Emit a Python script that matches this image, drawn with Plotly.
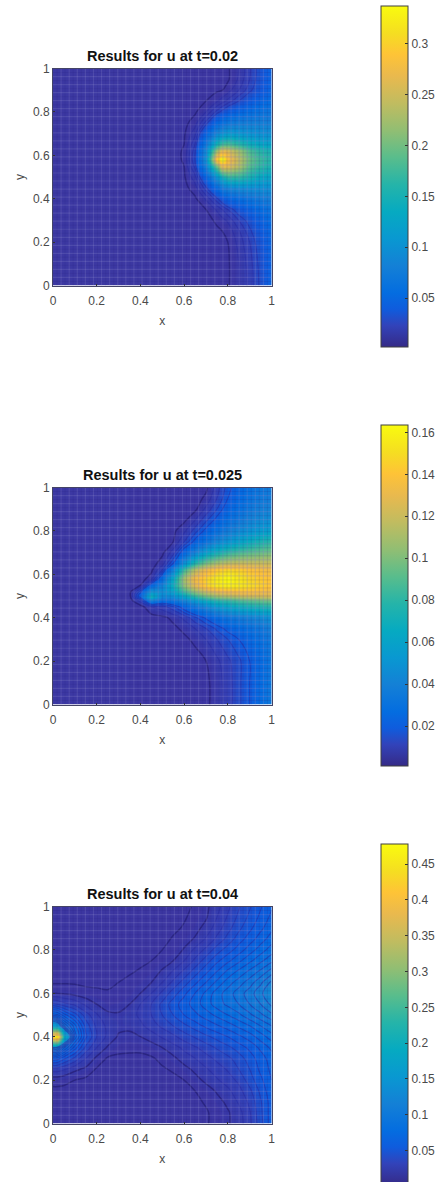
import numpy as np
import plotly.graph_objects as go

W, H = 441, 1182

parula = [
    [0.000, "rgb(53,42,135)"], [0.063, "rgb(50,67,186)"], [0.111, "rgb(15,92,221)"],
    [0.159, "rgb(4,109,224)"], [0.238, "rgb(20,128,214)"], [0.317, "rgb(9,152,209)"],
    [0.397, "rgb(6,170,193)"], [0.476, "rgb(37,180,169)"], [0.556, "rgb(89,189,140)"],
    [0.635, "rgb(145,190,115)"], [0.714, "rgb(192,188,96)"], [0.794, "rgb(233,185,78)"],
    [0.857, "rgb(254,195,55)"], [0.921, "rgb(245,222,33)"], [1.000, "rgb(249,251,14)"],
]
# the field itself looks lighter at its low end than the bar, because of the fine mesh
field_scale = [[0.0, "rgb(60,56,162)"], [0.02, "rgb(60,56,165)"]] + parula[1:]

ticks01 = [0, 0.2, 0.4, 0.6, 0.8, 1]
tick_text = ["0", "0.2", "0.4", "0.6", "0.8", "1"]

# ---------- Panel 1, t=0.02 (values in thousandths) ----------
title1 = "Results for u at t=0.02"
x1 = [0, .2, .4, .5, .55, .6, .65, .7, .75, .775, .8, .85, .9, .95, 1]
y1 = [0, .1, .2, .25, .3, .35, .4, .45, .5, .55, .58, .62, .65, .7, .75, .8, .85, .9, .95, 1]
z1 = [
    [3, 3, 3, 3, 3, 3, 3, 3, 4, 4, 5, 12, 20, 32, 48],
    [3, 3, 3, 3, 3, 3, 3, 3, 4, 4, 5, 12, 21, 33, 48],
    [3, 3, 3, 3, 3, 3, 3, 3, 4, 5, 6, 14, 24, 36, 50],
    [3, 3, 3, 3, 3, 3, 3, 4, 5, 6, 8, 17, 28, 40, 52],
    [3, 3, 3, 3, 3, 3, 3, 4, 7, 10, 13, 24, 34, 46, 58],
    [3, 3, 3, 3, 3, 3, 4, 6, 13, 18, 24, 36, 46, 56, 66],
    [3, 3, 3, 3, 3, 3, 5, 13, 28, 38, 48, 58, 68, 76, 82],
    [3, 3, 3, 3, 3, 4, 9, 28, 58, 78, 90, 98, 100, 100, 100],
    [3, 3, 3, 3, 3, 5, 16, 48, 105, 140, 165, 165, 150, 130, 125],
    [3, 3, 3, 3, 3, 6, 26, 85, 200, 265, 260, 230, 185, 165, 150],
    [3, 3, 3, 3, 3, 7, 30, 105, 300, 335, 285, 240, 195, 172, 160],
    [3, 3, 3, 3, 3, 7, 28, 95, 225, 265, 255, 220, 180, 160, 150],
    [3, 3, 3, 3, 3, 6, 24, 75, 155, 180, 185, 165, 145, 130, 125],
    [3, 3, 3, 3, 3, 5, 16, 48, 92, 105, 115, 110, 105, 100, 100],
    [3, 3, 3, 3, 3, 4, 9, 26, 52, 62, 72, 78, 80, 82, 82],
    [3, 3, 3, 3, 3, 3, 5, 12, 26, 33, 40, 50, 58, 65, 68],
    [3, 3, 3, 3, 3, 3, 3, 6, 11, 15, 20, 30, 40, 50, 58],
    [3, 3, 3, 3, 3, 3, 3, 4, 5, 6, 9, 18, 28, 38, 50],
    [3, 3, 3, 3, 3, 3, 3, 3, 4, 4, 5, 13, 24, 35, 48],
    [3, 3, 3, 3, 3, 3, 3, 3, 4, 4, 5, 12, 23, 35, 48],
]
range1 = [0.002, 0.337]
bar1 = [0.05, 0.1, 0.15, 0.2, 0.25, 0.3]
bar1_text = ["0.05", "0.1", "0.15", "0.2", "0.25", "0.3"]

# ---------- Panel 2, t=0.025 ----------
title2 = "Results for u at t=0.025"
x2 = [0, .15, .3, .35, .4, .45, .5, .55, .6, .65, .7, .75, .8, .85, .9, .95, 1]
y2 = [0, .1, .2, .3, .35, .4, .45, .48, .5, .52, .55, .58, .62, .65, .7, .75, .8, .85, .9, .95, 1]
z2 = [
    [2, 2, 2, 2, 2, 2, 2, 2, 2, 2, 3, 6, 10, 15, 20, 27, 35],
    [2, 2, 2, 2, 2, 2, 2, 2, 2, 2, 3, 6, 10, 15, 20, 27, 35],
    [2, 2, 2, 2, 2, 2, 2, 2, 2, 2, 4, 7, 11, 15, 20, 26, 34],
    [2, 2, 2, 2, 2, 2, 2, 2, 3, 5, 8, 12, 16, 20, 25, 30, 36],
    [2, 2, 2, 2, 2, 2, 2, 3, 5, 8, 12, 17, 22, 26, 30, 34, 40],
    [2, 2, 2, 2, 2, 2, 3, 5, 9, 15, 21, 27, 33, 37, 41, 45, 50],
    [2, 2, 2, 2, 2, 8, 10, 15, 24, 34, 45, 55, 62, 68, 72, 75, 78],
    [2, 2, 2, 2, 10, 40, 28, 32, 42, 55, 68, 78, 82, 88, 92, 95, 98],
    [2, 2, 2, 2, 25, 72, 45, 48, 62, 80, 95, 105, 110, 115, 118, 120, 122],
    [2, 2, 2, 2, 18, 52, 48, 60, 85, 105, 120, 130, 135, 138, 138, 135, 132],
    [2, 2, 2, 2, 4, 25, 42, 70, 105, 128, 145, 155, 158, 155, 150, 145, 140],
    [2, 2, 2, 2, 2, 6, 28, 65, 110, 135, 146, 156, 163, 155, 147, 143, 140],
    [2, 2, 2, 2, 2, 3, 12, 40, 85, 115, 132, 142, 148, 145, 140, 136, 133],
    [2, 2, 2, 2, 2, 2, 6, 20, 50, 80, 100, 112, 118, 120, 120, 120, 120],
    [2, 2, 2, 2, 2, 2, 3, 10, 25, 42, 60, 72, 82, 88, 92, 95, 98],
    [2, 2, 2, 2, 2, 2, 2, 4, 12, 22, 32, 44, 52, 60, 68, 75, 80],
    [2, 2, 2, 2, 2, 2, 2, 3, 7, 14, 22, 30, 38, 45, 50, 55, 58],
    [2, 2, 2, 2, 2, 2, 2, 2, 3, 8, 15, 22, 30, 36, 42, 46, 48],
    [2, 2, 2, 2, 2, 2, 2, 2, 2, 3, 9, 16, 24, 30, 36, 40, 42],
    [2, 2, 2, 2, 2, 2, 2, 2, 2, 2, 5, 12, 20, 26, 32, 36, 38],
    [2, 2, 2, 2, 2, 2, 2, 2, 2, 2, 3, 10, 18, 24, 30, 34, 36],
]
range2 = [0.001, 0.1635]
bar2 = [0.02, 0.04, 0.06, 0.08, 0.1, 0.12, 0.14, 0.16]
bar2_text = ["0.02", "0.04", "0.06", "0.08", "0.1", "0.12", "0.14", "0.16"]

# ---------- Panel 3, t=0.04 ----------
title3 = "Results for u at t=0.04"
x3 = [0, .02, .05, .1, .15, .2, .25, .3, .35, .4, .45, .5, .55, .6, .65, .7, .75, .8, .85, .9, .95, 1]
y3 = [0, .05, .1, .15, .2, .25, .3, .35, .4, .45, .5, .55, .6, .65, .7, .75, .8, .85, .9, .95, 1]
z3 = [
    [4, 4, 4, 4, 4, 4, 4, 4, 4, 4, 4, 4, 4, 4, 5, 7, 11, 15, 20, 30, 45, 60],
    [4, 4, 4, 4, 4, 4, 4, 4, 4, 4, 4, 4, 4, 4, 5, 7, 11, 15, 21, 31, 46, 60],
    [4, 4, 4, 4, 4, 4, 4, 4, 4, 4, 4, 4, 4, 5, 6, 9, 13, 18, 25, 34, 47, 60],
    [6, 6, 6, 5, 4, 4, 4, 4, 4, 4, 4, 4, 5, 6, 8, 12, 17, 22, 29, 38, 50, 62],
    [11, 11, 10, 8, 6, 5, 4, 4, 4, 4, 4, 5, 6, 8, 13, 18, 23, 28, 34, 44, 54, 64],
    [28, 28, 25, 18, 14, 7, 5, 5, 5, 5, 6, 7, 9, 13, 18, 23, 28, 33, 40, 48, 58, 66],
    [62, 60, 50, 38, 24, 14, 7, 6, 6, 6, 7, 10, 14, 20, 24, 29, 34, 38, 44, 52, 60, 68],
    [125, 120, 90, 60, 38, 24, 15, 11, 10, 10, 12, 16, 21, 26, 31, 36, 41, 46, 52, 58, 66, 74],
    [440, 478, 190, 85, 50, 32, 22, 15, 14, 16, 20, 25, 30, 36, 41, 46, 51, 56, 62, 68, 76, 84],
    [160, 150, 105, 75, 45, 30, 22, 18, 18, 22, 28, 34, 40, 46, 52, 58, 63, 68, 74, 80, 88, 96],
    [85, 82, 68, 52, 36, 25, 18, 17, 20, 26, 32, 40, 48, 56, 62, 68, 74, 80, 86, 94, 102, 110],
    [42, 40, 35, 30, 22, 16, 12, 13, 16, 24, 32, 42, 52, 60, 68, 76, 84, 90, 96, 104, 112, 122],
    [16, 16, 15, 13, 11, 10, 9, 9, 11, 16, 24, 34, 44, 54, 64, 74, 84, 92, 100, 108, 118, 128],
    [7, 7, 7, 7, 6, 6, 6, 8, 10, 12, 16, 24, 34, 44, 54, 64, 74, 84, 92, 100, 110, 122],
    [4, 4, 4, 4, 4, 4, 5, 5, 7, 9, 12, 17, 25, 34, 44, 54, 64, 74, 82, 90, 98, 108],
    [4, 4, 4, 4, 4, 4, 4, 4, 5, 6, 8, 12, 16, 24, 34, 44, 54, 62, 70, 78, 86, 94],
    [4, 4, 4, 4, 4, 4, 4, 4, 4, 5, 6, 8, 10, 17, 26, 34, 44, 52, 60, 68, 76, 84],
    [4, 4, 4, 4, 4, 4, 4, 4, 4, 4, 4, 5, 9, 12, 17, 25, 34, 43, 52, 60, 68, 76],
    [4, 4, 4, 4, 4, 4, 4, 4, 4, 4, 4, 4, 6, 9, 13, 19, 28, 37, 46, 54, 62, 70],
    [4, 4, 4, 4, 4, 4, 4, 4, 4, 4, 4, 4, 5, 7, 11, 15, 24, 33, 42, 50, 58, 66],
    [4, 4, 4, 4, 4, 4, 4, 4, 4, 4, 4, 4, 4, 6, 9, 14, 21, 30, 39, 47, 55, 63],
]
range3 = [0.002, 0.478]
bar3 = [0.05, 0.1, 0.15, 0.2, 0.25, 0.3, 0.35, 0.4, 0.45]
bar3_text = ["0.05", "0.1", "0.15", "0.2", "0.25", "0.3", "0.35", "0.4", "0.45"]

panels = [
    dict(title=title1, x=x1, y=y1, z=z1, rng=range1, bar=bar1, text=bar1_text,
         top=68.5, bot=285.5, bar_top=6, step=6, dark=1, last=30),
    dict(title=title2, x=x2, y=y2, z=z2, rng=range2, bar=bar2, text=bar2_text,
         top=487.5, bot=704.5, bar_top=425, step=4, dark=1, last=20),
    dict(title=title3, x=x3, y=y3, z=z3, rng=range3, bar=bar3, text=bar3_text,
         top=906.5, bot=1123.5, bar_top=844, step=8, dark=2, last=128),
]

L, R = 53.0, 271.5
LABEL = dict(family="Liberation Sans", size=12, color="#4a4a4a")
fig = go.Figure()
mesh_fine = np.linspace(0, 1, 55)[1:-1]
mesh_wide = np.linspace(0, 1, 28)[1:-1]


def mesh_xy(values):
    mx, my = [], []
    for m in values:
        mx += [m, m, None, 0, 1, None]
        my += [0, 1, None, m, m, None]
    return mx, my


for i, p in enumerate(panels):
    n = "" if i == 0 else str(i + 1)
    z = np.array(p["z"]) / 1000.0
    s = p["step"] / 1000.0
    fig.add_trace(go.Heatmap(
        x=p["x"], y=p["y"], z=z, zmin=p["rng"][0], zmax=p["rng"][1], zsmooth="best",
        colorscale=field_scale, xaxis="x" + n, yaxis="y" + n, hoverinfo="skip", showscale=False,
    ))
    fine_x, fine_y = mesh_xy(mesh_fine)
    fig.add_trace(go.Scatter(
        x=fine_x, y=fine_y, mode="lines", showlegend=False, hoverinfo="skip",
        line=dict(color="rgba(40,35,125,0.14)", width=1),
        xaxis="x" + n, yaxis="y" + n,
    ))
    wide_x, wide_y = mesh_xy(mesh_wide)
    fig.add_trace(go.Scatter(
        x=wide_x, y=wide_y, mode="lines", showlegend=False, hoverinfo="skip",
        line=dict(color="rgba(200,200,255,0.15)", width=1.2),
        xaxis="x" + n, yaxis="y" + n,
    ))
    fig.add_trace(go.Contour(
        x=p["x"], y=p["y"], z=z, showscale=False, xaxis="x" + n, yaxis="y" + n,
        contours=dict(coloring="lines", start=(p["dark"] + 1) * s, end=p["last"] / 1000.0, size=s),
        colorscale=[[0, "rgb(40,45,165)"], [1, "rgb(40,45,165)"]],
        line=dict(width=1.1, smoothing=1), opacity=0.55, hoverinfo="skip",
    ))
    fig.add_trace(go.Contour(
        x=p["x"], y=p["y"], z=z, showscale=False, xaxis="x" + n, yaxis="y" + n,
        contours=dict(coloring="lines", start=s, end=p["dark"] * s, size=s),
        colorscale=[[0, "rgb(40,35,125)"], [1, "rgb(40,35,125)"]],
        line=dict(width=1.5, smoothing=1), opacity=0.85, hoverinfo="skip",
    ))
    # colour bar with the true colour scale
    fig.add_trace(go.Scatter(
        x=[0, 1], y=[0, 1], mode="markers", showlegend=False, hoverinfo="skip",
        xaxis="x" + n, yaxis="y" + n,
        marker=dict(
            size=1, opacity=0, color=p["rng"], cmin=p["rng"][0], cmax=p["rng"][1],
            colorscale=parula, showscale=True,
            colorbar=dict(
                x=381 / W, xanchor="left", xpad=0, y=1 - p["bar_top"] / H, yanchor="top", ypad=0,
                lenmode="pixels", len=341, thicknessmode="pixels", thickness=27,
                outlinecolor="#404040", outlinewidth=1, borderwidth=0,
                tickmode="array", tickvals=p["bar"], ticktext=p["text"],
                ticks="inside", ticklen=3, tickcolor="#333333", tickwidth=1,
                tickfont=LABEL,
            ),
        ),
    ))
    ax = dict(
        range=[0, 1], tickmode="array", tickvals=ticks01, ticktext=tick_text, ticks="inside",
        ticklen=2, tickcolor="#333333", showgrid=False, zeroline=False, showline=True,
        linecolor="#444466", linewidth=1, mirror=True, tickfont=LABEL,
    )
    fig.update_layout({
        "xaxis" + n: dict(ax, domain=[L / W, R / W], anchor="y" + n, ticklabelstandoff=4,
                          title=dict(text="x", font=LABEL, standoff=9)),
        "yaxis" + n: dict(ax, domain=[1 - p["bot"] / H, 1 - p["top"] / H], anchor="x" + n,
                          title=dict(text="y", font=LABEL, standoff=5)),
    })
    fig.add_annotation(
        text="<b>" + p["title"] + "</b>", xref="paper", yref="paper",
        x=(L + R) / 2 / W, y=1 - (p["top"] - 12.5) / H, showarrow=False, yanchor="middle",
        font=dict(family="Liberation Sans", size=14.5, color="#111111"),
    )

fig.update_layout(
    width=W, height=H, autosize=False, margin=dict(l=0, r=0, t=0, b=0, autoexpand=False),
    paper_bgcolor="white", plot_bgcolor="white", showlegend=False,
)
fig.write_html("out.html", config=dict(displayModeBar=False),
               post_script="document.body.style.margin='0';document.body.style.overflow='hidden';")
